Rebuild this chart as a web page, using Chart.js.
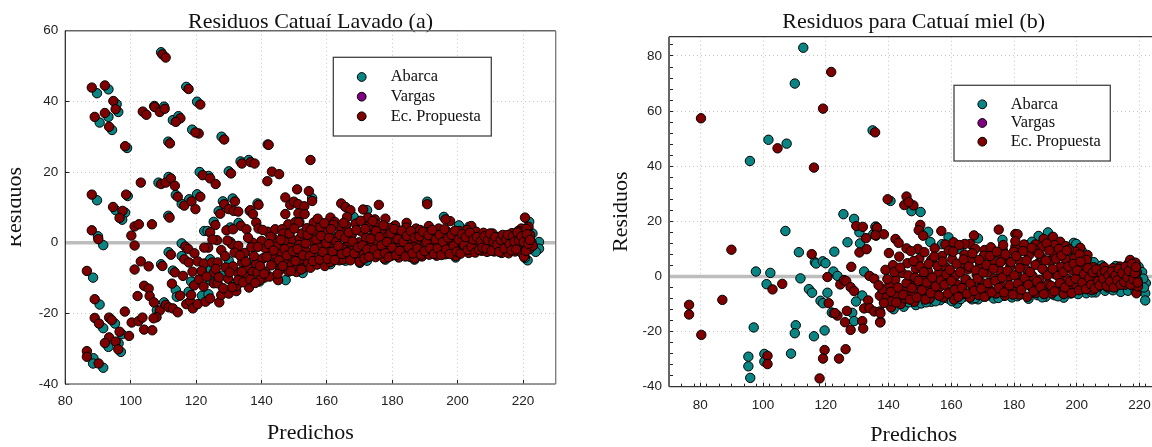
<!DOCTYPE html>
<html>
<head>
<meta charset="utf-8">
<title>Residuos</title>
<script src="https://cdn.jsdelivr.net/npm/chart.js@4"></script>
<style>
  html, body { margin: 0; background: #fff; width: 1152px; height: 447px; overflow: hidden; }
  canvas { position: absolute; top: 0; }
  #chartA { left: 11px; }
  #chartB { left: 590px; }
</style>
</head>
<body>
<canvas id="chartA" width="560" height="447"></canvas>
<canvas id="chartB" width="648" height="447"></canvas>
<script>
const seriesNames = ['Abarca', 'Vargas', 'Ec. Propuesta']
const seriesColors = ['#0b8484', '#800080', '#7f0000']

// [predicho, residuo]
const abarcaA = [[89.7,42.3],[93.2,43.4],[95.7,39.2],[96.2,37],[90.5,34],[93.2,35.6],[94.3,31.9],[98.9,26.8],[109.3,53.9],[117,44.1],[120.3,39.9],[118.8,32],[111.5,28.6],[127.8,30],[141.9,27.8],[133.6,23],[136.1,23.4],[130,20.2],[121.1,20],[123.8,18.9],[111.6,18.6],[108.5,17],[114.1,34.5],[112.9,34.7],[114.6,35.8],[110.2,38.5],[107.2,38.7],[89.7,12],[99.1,13.2],[113.8,13.5],[115.6,11],[117.9,12.3],[120.3,13.7],[131.2,12.5],[138.8,11.1],[128.2,11.7],[126.9,8.9],[136.4,9],[95.4,9.2],[98.3,8.5],[97.4,6.5],[111.5,7.6],[125.4,5.9],[133,5.6],[130.5,4.3],[122.5,3.3],[123.5,3.3],[90,1.8],[91.6,-0.7],[115.6,-0.2],[130.5,0.2],[88.5,-9.9],[90.5,-17.5],[91.6,-24.2],[95.2,-22.9],[97.3,-25.9],[96.3,-28.5],[93.2,-29.5],[97,-30.9],[88.6,-32.7],[88.5,-34.2],[91.6,-35.4],[109.3,-6.1],[111.6,-2.7],[112.9,-7.9],[113.8,-13.4],[114.1,-15.3],[110.2,-16.9],[108,-19.1],[118.5,-11],[117.7,-13.9],[115.6,-3.8],[121.8,-15],[123.8,-14.6],[124.3,-10.6],[124.5,-7.7],[124.3,-4.7],[128.4,-9.2],[130,-5.1],[131.5,-11.7],[137.1,-5.6],[140.7,-4.4],[139.4,-11],[161.1,-6.1],[165.7,-5.1],[170.1,-5.7],[172.3,-5.1],[177.9,-4.8],[186.8,-4.8],[199.4,-4.2],[221.4,-5],[220.6,-4.3],[224.9,0.2],[224.9,-1.7],[223.9,-2.6],[221.9,5.9],[222.9,2.6],[200.4,4.9],[203.5,4.5],[195.8,7.3],[190.7,11.6],[168.2,7.3],[172.3,9.2],[155.5,12.6],[152.6,-8.6],[147.4,-10.6]]
const vargasA = []
const propuestaA = [[88.1,43.9],[92.1,44.5],[94.7,40.1],[95.4,37.8],[89,35.6],[92.1,36.7],[93.4,32.8],[98.3,27.3],[103.7,37.1],[104.8,36.2],[107.3,38.4],[108.9,37],[110.4,37.9],[115.2,35.2],[113.8,34.2],[109.7,53.3],[110.7,52.4],[117.7,43.5],[121.3,39.1],[120.8,30.9],[119.8,31.2],[112,28.1],[128.6,29.2],[142.2,27.7],[134,22.4],[136.7,22.8],[137.9,22.4],[130.7,19.6],[143.2,20.1],[145.4,19.4],[141.8,17.4],[122,19.1],[124.3,18.2],[126,16.6],[103.1,17],[109.3,16.6],[110.7,17],[112.3,18.2],[113.5,16.1],[88.1,13.6],[98.6,13.6],[114.4,13],[116.4,10.5],[118.6,11.7],[119.8,9.5],[121.3,13],[131.9,11.7],[139.1,10.7],[94.6,10.1],[97.5,9],[96.6,7],[128.6,10.9],[130,9.5],[131.5,9],[132.9,8.8],[127.4,8.2],[136.6,9.2],[137.4,8.1],[147.3,12.8],[150.9,15.1],[148.8,10.7],[149.9,11.6],[151.2,10.9],[147.3,8.1],[151.3,8.3],[111.9,7.1],[101.2,4.6],[102.5,5.2],[106.5,5.2],[125.9,5],[138.4,5.7],[133.7,4.8],[135.4,3.8],[129.3,3.5],[131.3,3.8],[139.1,4],[148.2,5.2],[150.3,5.8],[151.6,5.8],[88.1,3.5],[90.1,1],[100.2,2],[101.2,-0.8],[141.9,3.1],[144.2,3.8],[146.3,3.8],[143.9,1],[146.6,2.6],[149.2,1],[151.7,1.2],[124.3,2.9],[126.4,0.7],[125,0.9],[137.3,0],[140,0.5],
  [86.6,-8],[89,-16],[89,-21.3],[90.3,-22.9],[93.4,-21.2],[94.2,-21.9],[98.2,-19.5],[100.3,-22.6],[102.4,-22.2],[96.6,-25.2],[104.1,-24.6],[106.6,-24.8],[99.5,-26.4],[93.4,-26.8],[92.1,-28.4],[95.4,-28],[96.2,-30.2],[86.6,-30.7],[86.6,-32.3],[90.2,-34.2],[101.2,-7.6],[103.1,-5.3],[105.5,-6.7],[109.7,-6.6],[112.3,-3.4],[113.5,-8.4],[104.1,-12.2],[105.5,-13],[102.1,-15.1],[105.8,-15.1],[107.1,-16.9],[108.9,-19.2],[110.7,-17.6],[111.6,-18.3],[112.9,-18.6],[114.4,-19.7],[107.9,-21.1],[107,-21.4],[115.1,-15],[117,-17.4],[118.2,-16.6],[119,-18.6],[120.5,-17.4],[118.5,-14.8],[119.4,-12.1],[122.9,-16.7],[124.3,-15.8],[127.1,-16.9],[127.7,-14.8],[130,-14.4],[132.3,-13.7],[132.4,-12.3],[125.4,-11.5],[126.6,-11.5],[128.3,-12.9],[136.2,-12.7],[129.8,-10.2],[132.6,-8.4],[125.4,-8.5],[129.1,-7],[131.3,-6.7],[134.1,-5.6],[116.7,-1.1],[117.6,-1.8],[119.5,-3],[116.4,-4.7],[117.8,-5.6],[120.5,-5.3],[122.4,-5.9],[124.9,-5.6],[126.6,-5.6],[127.7,-2.1],[123.7,-1.4],[122.5,-1.4],[130.9,-0.4],[132.9,-0.9],[134.9,-2.9],[136.9,-1.3],[138.3,-6],[135.6,-9.2],[135.8,-7.1],[137.3,-8.3],[138.8,-8.4],[140.9,-9.9],[142.5,-9.6],[145.1,-10.6],[141.2,-8.2],[139.4,-10.6],
  [155,23.4],[154.5,14.6],[155.5,11.8],[153.1,10.3],[153.2,8.1],[151.4,5.7],[156,5.7],[164.4,11.1],[165.7,10.1],[167.2,9.2],[166.2,7.3],[161.1,7.1],[162.4,5.9],[171.1,9.4],[175.9,10.7],[172.6,7.1],[174.7,6.6],[177.9,6.8],[180.9,4.9],[184.4,5.6],[190.7,10.9],[191.2,4.7],[187.3,4],[197.7,6.1],[196.3,6.6],[204.2,4.7],[220.6,7.1],[219.5,4],[221.7,4.5],
  [140.3,-4.5],[141.2,-1.6],[142.8,1.7],[143.4,-3.3],[144,-5.8],[144.6,-1.1],[145.7,-7.7],[146.2,-2.9],[146.9,0.4],[147.4,-5.1],[148.3,-8.2],[148.8,-1.4],[149.3,-6.3],[150.2,-3.7],[150.7,-8.3],[151.1,-6.4],[151.5,-0.6],[152,-4.9],[152.4,2.6],[152.9,-7.1],[153.4,-2.2],[153.9,4.1],[154.3,-5.6],[155,-7.1],[155.4,0.6],[155.9,-3.4],[156.5,2.9],[157,-6.2],[157.4,-1.1],[158,4.4],[158.5,-4.4],[159,0.9],[159.4,-6.6],[160,-2.3],[160.4,3.2],[161.1,-5.5],[161.6,-0.4],[162,5.1],[162.7,-3.2],[163.2,1.6],[163.8,-5],[164.4,3.7],[164.9,-4.8],[165.3,-1.5],[165.9,4.9],[166.4,0.4],[166.9,-3.9],[167.6,2.2],[168.1,-1.9],[168.8,5.4],[169.3,-4.4],[169.8,0.1],[170,-5.4],[170.6,3.1],[171.2,-2.7],[171.5,-4.5],[172,1.3],[172.6,4.6],[173.1,-3.5],[173.7,-0.9],[174.2,2.3],[174.9,-4.1],[175.3,5.2],[175.8,0.2],[176.4,-2.6],[176.9,3.4],[177.6,-4.5],[178.1,-1.2],[178.7,1.9],[179.2,4.2],[179.8,-3.7],[180.3,0.6],[180.9,-2.1],[181.4,3.3],[182,-4.2],[182.6,-0.3],[183.1,2.1],[183.7,-3],[184.3,4.3],[184.8,0.8],[185.4,-4],[185.9,-1.6],[186.5,2.7],[186.8,-4.5],[187.4,0.2],[188,-2.8],[188.5,3.6],[189.1,-3.9],[189.6,1.2],[190.2,-1],[190.8,3],[191.3,-3.4],[191.9,0.5],[192.5,-2.2],[193,2.4],[193.6,-3.7],[194.2,4],[194.7,-0.6],[195.1,-2.6],[195.7,1.6],[196.2,-3.3],[196.8,3.1],[197.3,-1.3],[197.9,0.7],[198.5,-2.9],[199,2.3],[199.4,-3.8],[200,-0.8],[200.6,3.3],[201.1,-2.4],[201.7,1.1],[202.3,-1.5],[202.8,3.6],[203.4,-2.9],[204,0.3],[204.5,2.4],[205.1,-2.2],[205.7,3.1],[206.2,-0.7],[206.8,1.5],[207.4,-2.3],[207.9,2.8],[208.5,0.2],[209,-2.6],[209.6,1.9],[210.1,-1.2],[210.7,2.6],[211.2,-2.5],[211.8,0.6],[212.4,-1.7],[212.9,1.7],[213.5,-2.9],[214,0.1],[214.6,2],[215.1,-1.4],[215.6,-3],[216.1,1.2],[216.6,2.7],[217.1,-0.8],[217.6,-2.5],[218,1.9],[218.5,3.3],[219,-1.5],[219.2,0.5],[219.7,-3],[220,2.4],[220.3,-4],[220.6,-0.7],[221,3.9],[221.4,1.1],[221.9,-1.9],[222.2,2.2],[222.6,0.1],[223,-0.9],
  [103.6,-21.2],[112.6,-11.6],[116,-9.4],[118.9,-8.2],[120.9,-10.4],[121.7,-8],[122.3,-12.4],[123.2,-9.6],[126,-7.4],[127,-9.8],[128.9,-3.8],[129.6,0.6],[130.2,-8.4],[131,-12.6],[131.8,-2.8],[132.9,-10.6],[133.4,-3.6],[134,-8.2],[134.4,-11.2],[135.2,-5.4],[135.9,1.4],[136.6,-10.4],[137.7,-3.8],[138.1,-11.4],[138.9,-1.2],[139.6,-6.6],[140.4,3.6],[140.8,-8.8],[141.6,-4],[142.3,-0.4],[143,-6.4],[143.7,-2.2],[144.9,-8.8],[145.4,-5],[145.9,0.8],[146.5,-6.6],[147.1,-1.8],[147.8,-3.6],[148.6,2.6],[149,-8],[149.6,-2.4],[150,4],[150.4,-5.2],[151,-1.8],[152.2,-7.6],[152.7,-3.6],[153.6,-0.2],[154.1,2.2],[154.8,-3.8],[155.2,3.7],[155.7,-5.2],[156.2,-1.8],[156.8,0.9],[157.2,6.8],[157.8,-4.8],[158.2,1.9],[158.8,-2.6],[159.2,5.5],[159.8,-0.2],[160.2,-4.6],[160.7,1.4],[161.3,3.8],[161.8,-2.5],[162.4,-4.9],[162.9,0.2],[163.5,-0.9],[164,2.2],[164.6,-3.2],[165.1,5.6],[165.6,1.3],[166.2,-2.7],[166.7,2.9],[167.2,-5],[167.9,0.3],[168.4,-3],[169,3.6],[169.5,-1.3],[170.3,6.2],[170.9,-0.8],[171.7,3.9],[172.3,-1.9],[172.9,-4],[173.4,1.1],[174,6.1],[174.5,-1.9],[175,3.3],[175.6,-3.3],[176.1,1.6],[176.7,-0.8],[177.3,4.9],[177.8,-3],[178.4,0.2],[178.9,-4.1],[179.5,2.6],[180,-1.4],[180.6,3.9],[181.2,-3.5],[181.7,1],[182.3,-2.3],[182.9,3.4],[183.4,0.2],[184,-3.9],[184.5,1.9],[185.1,-1.4],[185.7,3.3],[186.2,-3],[186.9,1.4],[187.7,-1.6],[188.3,1.8],[188.8,-3.4],[189.4,3.1],[189.9,-2.4],[190.5,0.2],[191.1,2.1],[191.6,-1.6],[192.2,3.6],[192.8,-3.2],[193.3,0.9],[193.9,-1.6],[194.5,2.2],[195,-3.5],[195.5,0.2],[196,3.8],[196.5,-1.9],[197.1,1.4],[197.6,-3.2],[198.2,2.2],[198.8,-0.9],[199.2,3.4],[199.7,-2.5],[200.3,0.9],[200.9,-3.1],[201.4,2.4],[202,-0.7],[202.5,1.6],[203.1,-2],[203.7,2.8],[204.2,-1.2],[204.8,0.9],[205.4,-2.8],[205.9,1.6],[206.5,-2],[207.1,0.5],[207.6,-1.4],[208.2,1.8],[208.8,-1.7],[209.3,0.7],[209.9,2.6],[210.4,-2.3],[211,0.3],[211.5,1.6],[212.1,-0.6],[212.7,-2.6],[213.2,0.8],[213.8,2.2],[214.3,-1.6],[214.9,0.9],[215.4,2.2],[215.9,-0.4],[216.4,-2.2],[216.9,1.8],[217.4,0.3],[217.9,-1.9],[218.3,2.9],[218.8,0.6],[219.5,1.8],[220.2,0.2],[220.9,-2.3],[221.2,2.4],[221.6,-0.3],[222.1,0.8]]

const abarcaB = [[112.8,83],[110.1,70],[101.7,49.6],[107.5,48.2],[95.8,41.9],[134.9,53],[125.6,22.6],[129,20.9],[130.7,16],[135.9,18.1],[135.1,15.3],[107.1,16.5],[126.9,12.4],[130.9,12],[111.4,8.8],[97.7,1.8],[102.3,1.3],[101.1,-2.8],[111.9,-0.7],[114.6,-4.6],[115.6,-5.9],[116.5,5.2],[116.9,4.7],[119,5.5],[119.9,4.8],[122.7,9],[122.4,1.8],[123.7,0.2],[120.5,-5.9],[118.3,-8.8],[119.1,-9.7],[121.9,-13.1],[122.5,-13.3],[128.4,-13.2],[129,-16.2],[131.6,-6.9],[129.6,-9.1],[132.2,1.8],[97,-18.5],[110.4,-17.7],[110.1,-20.6],[119.6,-19.6],[116.2,-21.7],[108.9,-28],[100.4,-28.1],[100.4,-30.9],[95.3,-29.1],[95.3,-32.6],[95.9,-36.8],[140.6,27.4],[147.3,23.7],[150.2,23.4],[135.8,18],[152.6,16.2],[153.3,12.5],[159.1,14.2],[168.5,13.8],[187.8,14.7],[190.8,16],[185.7,12.6],[199,12.2],[199.8,11.8],[141.6,-11.9],[144.8,-11],[148.7,-10.4],[153.6,-9.2],[156.5,-8.6],[161.8,-9.8],[166.6,-8.3],[168.5,-8.3],[173.5,-8],[179.3,-7.6],[184.6,-8.1],[190,-7.4],[195.8,-7.7],[214,-5.6],[221.8,-6.1],[221.8,-8.7],[219.7,3.5],[220.8,1.6],[216.3,-5.2],[209,-5.2],[203,-6.1],[150.4,-9.8],[146.4,-9.4],[158.9,-8],[164,-7.4],[171,-7.2],[176.6,-7],[182,-6.6],[187.4,-6.8],[192.8,-6.8],[198,-6.2],[206,-5.8],[211.5,-5],[218.7,-5.4],[191.6,13.4],[193.9,10.2],[186.6,10],[197.4,9.1],[201.6,9.2],[138.6,-9.4],[205.4,5.2],[208,4],[212.4,3.8],[218.4,4.8],[157,11.7],[162.4,10],[172.4,8.6],[176.3,13.3],[152,-9.4],[155,-9],[160.2,-9],[163,-8.2],[167.6,-7.8],[175,-7.8],[181,-7.2],[189,-7.6],[194,-7.2],[200.4,-6.4],[204.8,-5.8],[222,-2.4],[221.2,-0.8],[221.4,-4]]
const vargasB = []
const propuestaB = [[80.2,57.4],[104.6,46.5],[116.2,39.5],[119.1,60.9],[121.7,74.2],[135.7,52.3],[129.7,18.3],[131.8,18],[136.2,17.5],[132.8,13.9],[136,14.8],[89.9,9.7],[76.4,-10.3],[76.4,-13.8],[80.3,-21.2],[87,-8.5],[103,-4.7],[106.1,-2.7],[101.4,-28.8],[101.4,-31.8],[115.5,8.1],[120.5,-0.2],[120.9,-9.7],[119.6,-26.7],[119.1,-29.8],[118,-37],[124.2,-29.8],[126.3,-26.4],[126.7,-12.5],[127.9,-19.4],[126.1,-16.6],[123.7,-14.2],[122.9,-13.3],[124.6,-2.9],[125.8,-1.3],[126.5,-1.7],[127.9,-3.9],[129,-5.3],[128.1,3.5],[130.7,8.7],[133,9.9],[133.9,0.2],[135.4,-0.8],[133.5,-8.7],[132.2,-11.6],[133.9,-11.5],[135.4,-12.7],[131.6,-16.2],[131.9,-18.9],[137.4,-16.4],[137.2,-12.7],[137.2,-7],[138,-4.6],
  [139.7,28],[145.7,29],[145,25.9],[147.9,25.8],[146.4,27],[136.3,17.7],[138.5,15.3],[135.8,15],[150.1,18.7],[149.6,16.8],[151,14.8],[156.8,16.5],[167.2,14.9],[175.1,17],[180.4,15.4],[181.1,15.3],[189.4,13.6],[192.4,14.4],[194.7,12.6],[201.1,10.4],[203.4,7.8],[196.5,11],[142.2,13.6],[143.2,12.2],[158.1,11.6],[160.7,12.4],[166,11.8],[164.3,11.8],[149.3,10],[145.7,10.2],[170.6,9.6],[176.4,9.6],[180.4,10.8],[186.8,11.6],[188.9,10.8],[192.9,11.4],[199.5,9],[137.3,-16.7],[137.4,-13.4],[140.8,-11.2],
  [139,2.4],[139.4,-7.6],[140.1,8.5],[140.3,-3],[141,-9],[141.4,4.1],[142.1,-1.2],[142.7,-6.8],[143.4,7.2],[143.9,-10],[144.3,1.3],[145,-4.4],[145.4,-8],[146,4.8],[146.6,-1.8],[147.1,9.2],[147.6,-6.2],[148.2,-9.2],[148.7,2.8],[149.2,-3.2],[149.8,6.4],[150.3,-7.1],[150.9,-0.6],[151.4,8.8],[152,-4.8],[152.5,2],[153.1,-8],[153.6,6],[154.2,-2.4],[154.7,10.2],[155.3,-6],[155.8,1],[156.4,-3.7],[157,7.4],[157.5,-7.6],[158.1,3.4],[158.7,-1.3],[159.2,9.4],[159.8,-5.4],[160.3,6.2],[160.9,-8.4],[161.4,0.4],[162,-3],[162.5,11.4],[163.1,4.4],[163.7,-6.4],[164.2,8],[164.8,-1.4],[165.3,2.6],[165.9,-7.7],[166.4,6.4],[167,-4],[167.6,10],[168.1,0.8],[168.7,-6.8],[169.2,4.4],[169.8,-2.4],[170.4,7.6],[170.9,-7],[171.5,1.4],[172,-4.6],[172.6,10.6],[173.2,5],[173.7,-0.8],[174.3,-6.2],[174.8,8.2],[175.4,2.2],[176,-3.6],[176.5,11.4],[177.1,-7],[177.6,6.2],[178.2,-0.4],[178.8,3.6],[179.3,-5.2],[179.9,9],[180.4,12.8],[180.9,0.6],[181.5,-6.6],[182,5.4],[182.6,-2.2],[183.2,11.6],[183.7,2.8],[184.2,-7.4],[184.8,7.8],[185.3,-3.6],[185.9,0.2],[186.5,9.8],[187,-6],[187.6,4.6],[188.1,-1.2],[188.7,7],[189.2,-5],[189.8,2],[190.4,12],[190.9,-2.8],[191.5,5.6],[192,-6.2],[192.6,8.6],[193.1,0.8],[193.7,-3.8],[194.3,10],[194.8,3.4],[195.4,-5.6],[195.8,-6.4],[196.4,6.4],[197,-1],[197.5,9.8],[198.1,-4.6],[198.6,2.2],[199.2,6.6],[199.8,-3],[200.3,0.4],[200.9,8],[201.4,-4.4],[202,4],[202.6,-1.6],[203.1,6],[203.7,-3.8],[204.2,1.6],[204.8,-5],[205.3,3.4],[205.9,-1.2],[206.4,0.8],[207,-3.6],[207.6,2.6],[208.1,-2.2],[208.7,3.4],[209.2,-0.2],[209.8,-4],[210.3,1.6],[210.9,-2.6],[211.5,3],[212,-0.8],[212.6,-3.4],[213.1,1.8],[213.7,3.6],[214.2,-1.6],[214.8,0.4],[215.4,-3],[215.9,2.4],[216.4,4.6],[216.8,-1.4],[217,6],[217.4,0.6],[217.9,3.2],[218.3,-3.2],[218.7,5],[219,-6.1],[219.1,1.6],[219.3,-1.4],[219.5,-3.6],
  [136.8,-3.2],[138.5,-9.6],[139.6,-1],[140.7,-5.6],[141.8,1.6],[142.4,-9.4],[143,-4],[143.7,3.2],[144.6,-6.6],[145.7,-2.4],[146.3,0.4],[146.8,-8.4],[147.4,-4.2],[148,5.6],[148.4,-0.4],[149,-7.6],[149.5,-1.6],[150.1,3.6],[150.6,-5],[151.2,1.6],[151.7,-8.4],[152.2,-2.2],[152.8,4.6],[153.4,-6],[153.9,-0.4],[154.5,7.2],[155,-3.6],[155.6,3.8],[156.1,-7],[156.7,-1.4],[157.2,5.4],[157.8,-3],[158.4,0.8],[158.9,-6.2],[159.5,2.4],[160,-1.6],[160.6,9],[161.1,-4.8],[161.7,4.6],[162.2,-7.4],[162.8,1.6],[163.4,-4.2],[163.9,6.2],[164.5,-1],[165,-6.2],[165.6,3.6],[166.1,-2.6],[166.7,8.4],[167.3,-5.2],[167.8,2.2],[168.4,-0.8],[168.9,6],[169.5,-4.4],[170.1,1.4],[170.6,-7.4],[171.2,4.2],[171.7,-2.4],[172.3,7.4],[172.9,-5.8],[173.4,2.8],[174,-1.6],[174.5,9],[175.1,-4.2],[175.7,5.2],[176.2,-0.4],[176.8,-5.8],[177.3,8],[177.9,2],[178.5,-3.2],[179,5.2],[179.6,-6.6],[180.1,0.4],[180.7,7.4],[181.2,-2.6],[181.8,3],[182.3,-4.8],[182.9,9.2],[183.4,-0.6],[184,5.8],[184.5,-3],[185.1,1.6],[185.6,10.4],[186.2,-5.4],[186.8,4.2],[187.3,-1.8],[187.9,8.2],[188.4,-3.8],[189,2.8],[189.5,-6.4],[190.1,5.8],[190.7,0.4],[191.2,9.4],[191.8,-3.4],[192.3,2.8],[192.9,-5.4],[193.4,6.4],[194,0.2],[194.6,-2.4],[195.1,7.6],[195.7,1.6],[196.2,-4],[196.8,9.4],[197.3,3.6],[197.9,-1.8],[198.4,-6],[199,4.6],[199.6,-0.8],[200.1,2.2],[200.7,-5],[201.2,5.4],[201.8,-2.2],[202.3,0.8],[202.9,-4.6],[203.5,3],[204,-0.6],[204.6,-3],[205.1,1.4],[205.7,-4.4],[206.2,2.6],[206.8,-1.6],[207.3,-3.2],[207.9,1],[208.4,-0.8],[209,2],[209.5,-3.4],[210.1,0.4],[210.6,-1.8],[211.2,1.8],[211.8,-4],[212.3,0.4],[212.9,-1.4],[213.4,2.8],[214,-3],[214.5,1.2],[215.1,-2],[215.6,3.6],[216.1,-0.4],[216.6,2],[217.1,-3],[217.6,4.6],[218,-1],[218.5,1.2],[218.9,3.4],[219.4,-2.2]]

const majorStep = 20
const minorStepB = 4
const zeroLine = [[-1, 0], [1, 0]]

const sansFont = '"Liberation Sans", Arial, sans-serif'
const serifFont = '"Liberation Serif", "Times New Roman", serif'

// frame and inset legend, both drawn on top of the plot
const framePlugin = {
  id: 'frameLegend',
  afterDatasetsDraw(chart, args, opts) {
    const { ctx, chartArea: a } = chart
    const side = (x1, y1, x2, y2, style) => {
      ctx.strokeStyle = style[0]
      ctx.lineWidth = style[1]
      ctx.beginPath()
      ctx.moveTo(x1, y1)
      ctx.lineTo(x2, y2)
      ctx.stroke()
    }
    ctx.save()
    side(a.left, a.top, a.right, a.top, opts.frame.top)
    side(a.right, a.top, a.right, a.bottom, opts.frame.right)
    side(a.left, a.bottom, a.right, a.bottom, opts.frame.bottom)
    side(a.left, a.top, a.left, a.bottom, opts.frame.left)

    const b = opts.box
    ctx.fillStyle = '#fff'
    ctx.fillRect(b.left, b.top, b.right - b.left, b.bottom - b.top)
    ctx.strokeStyle = '#444'
    ctx.lineWidth = 1.3
    ctx.strokeRect(b.left, b.top, b.right - b.left, b.bottom - b.top)
    ctx.font = '16.4px ' + serifFont
    ctx.textBaseline = 'middle'
    seriesNames.forEach((name, i) => {
      ctx.beginPath()
      ctx.arc(b.markerX, b.rows[i], 4.4, 0, Math.PI * 2)
      ctx.fillStyle = seriesColors[i]
      ctx.fill()
      ctx.strokeStyle = '#000'
      ctx.lineWidth = 1
      ctx.stroke()
      ctx.fillStyle = '#111'
      ctx.fillText(name, b.textX, b.rows[i])
    })
    ctx.restore()
  }
}

const toPoints = list => list.map(p => ({ x: p[0], y: p[1] }))

function residualChart(id, cfg) {
  const sets = [cfg.abarca, cfg.vargas, cfg.propuesta].map((list, i) => ({
    label: seriesNames[i],
    data: toPoints(list),
    backgroundColor: seriesColors[i],
    borderColor: '#000',
    borderWidth: 1,
    pointRadius: 4.7,
    order: 2 - i
  }))
  sets.push({
    label: 'cero',
    data: toPoints(zeroLine.map(p => [p[0] < 0 ? cfg.xMin : cfg.xMax, p[1]])),
    showLine: true,
    pointRadius: 0,
    borderColor: '#bdbdbd',
    borderWidth: 3.4,
    clip: false,
    order: 3
  })
  const tickOpts = (labelPad, step) => ({ padding: labelPad, autoSkip: false, source: 'linear', includeBounds: false, maxRotation: 0, color: '#222',
    font: { family: sansFont, size: 13.5 }, stepSize: step, callback: v => (v % majorStep === 0 ? v : '') })
  const grid = {
    color: c => (c.tick && c.tick.value % majorStep === 0 ? '#c4c4c4' : 'transparent'),
    tickColor: '#222',
    tickLength: -4,
    lineWidth: 1
  }
  const scales = {
    x: {
      type: 'linear', min: cfg.xMin, max: cfg.xMax,
      afterFit: s => { s.height = cfg.xHeight },
      ticks: tickOpts(cfg.xLabelPad, majorStep),
      grid: grid,
      border: { display: false, dash: [1, 3] },
      title: { display: true, text: 'Predichos', color: '#111', font: { family: serifFont, size: 22, lineHeight: 1 }, padding: { bottom: cfg.xTitlePad, top: 0 } }
    },
    y: {
      type: 'linear', min: cfg.yMin, max: cfg.yMax,
      afterFit: s => { s.width = cfg.yWidth },
      ticks: tickOpts(11, cfg.yStep),
      grid: grid,
      border: { display: false, dash: [1, 3] },
      title: { display: true, text: 'Residuos', color: '#111', font: { family: serifFont, size: 22, lineHeight: 1 }, padding: { top: cfg.yTitlePad, bottom: 0 } }
    }
  }
  // second bottom axis only for the small ticks between the labelled ones
  if (cfg.xMinor) {
    scales.xMinor = {
      type: 'linear', position: 'bottom', weight: -1, min: cfg.xMin, max: cfg.xMax,
      afterFit: s => { s.height = 0 },
      ticks: { display: false, source: 'linear', autoSkip: false, includeBounds: false, stepSize: cfg.xMinor },
      grid: { drawOnChartArea: false, tickColor: '#222', tickLength: -3 },
      border: { display: false }
    }
  }
  return new Chart(document.getElementById(id), {
    type: 'scatter',
    data: { datasets: sets },
    plugins: [framePlugin],
    options: {
      responsive: false,
      animation: false,
      layout: { padding: { left: 0, top: 0, bottom: 0, right: cfg.rightPad } },
      plugins: {
        legend: { display: false },
        tooltip: { enabled: false },
        title: { display: true, fullSize: false, text: cfg.title, color: '#111', font: { family: serifFont, size: 22, weight: 'normal', lineHeight: 1 }, padding: cfg.titlePad },
        frameLegend: { frame: cfg.frame, box: cfg.box }
      },
      scales: scales
    }
  })
}

residualChart('chartA', {
  title: 'Residuos Catuaí Lavado (a)',
  abarca: abarcaA, vargas: vargasA, propuesta: propuestaA,
  xMin: 80, xMax: 230, yMin: -40, yMax: 60, yStep: majorStep,
  rightPad: 15.3, yWidth: 54.3, xHeight: 63,
  titlePad: { top: 11, bottom: -2.3 }, xLabelPad: 13, xTitlePad: 3, yTitlePad: -7,
  frame: { top: ['#666', 1.5], right: ['#777', 1.3], bottom: ['#777', 1.3], left: ['#222', 1.2] },
  box: { left: 322.3, right: 480.3, top: 57.3, bottom: 136, markerX: 350.7, textX: 379.7, rows: [77, 96.7, 116.3] }
})

residualChart('chartB', {
  title: 'Residuos para Catuaí miel (b)',
  abarca: abarcaB, vargas: vargasB, propuesta: propuestaB,
  xMin: 70, xMax: 226, yMin: -40, yMax: 87, yStep: minorStepB, xMinor: minorStepB,
  rightPad: 79.6, yWidth: 79, xHeight: 60.3,
  titlePad: { top: 11, bottom: 3.7 }, xLabelPad: 14, xTitlePad: 1, yTitlePad: 20,
  frame: { top: ['#333', 1.3], right: ['#777', 1.3], bottom: ['#333', 1.3], left: ['#666', 2] },
  box: { left: 364, right: 520.3, top: 85.3, bottom: 161, markerX: 392.3, textX: 420.7, rows: [104.3, 123, 141.7] }
})
</script>
</body>
</html>
